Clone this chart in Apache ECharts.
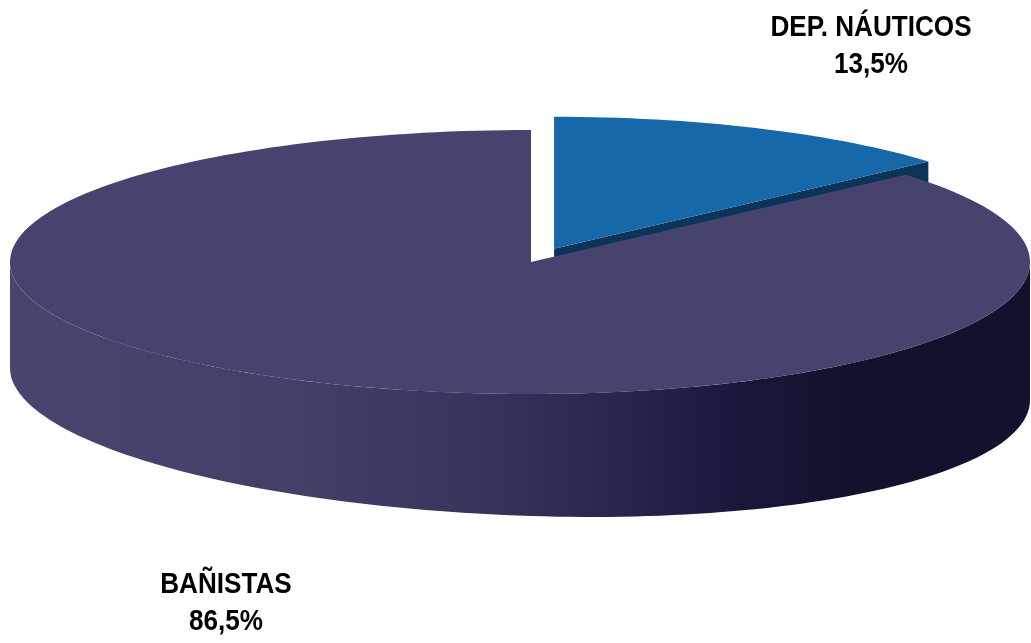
<!DOCTYPE html>
<html>
<head>
<meta charset="utf-8">
<script src="https://cdn.jsdelivr.net/npm/echarts@6/dist/echarts.min.js"></script>
<style>
    html, body {margin: 0; padding: 0; background: #fff;}
    #main {width: 1031px; height: 643px;}
</style>
</head>
<body>
<div id="main"></div>
<script>
// datos del gráfico
let categories = ['DEP. NÁUTICOS', 'BAÑISTAS'];
let shares = [13.5, 86.5];

// geometría de la tarta 3D (proyección elíptica, algo de perspectiva)
let cx = 531, cy = 262, rxLeft = 521, rxRight = 499, ry = 132;
let explode = [0.11, 0];
let topColors = ['#1668a8', '#46446f'];
let sideColors = ['#0b3458', '#12122e'];
let labelAt = [[871, 46], [226, 603]];

function depthAt(t) {
    return 122 + 16 * Math.cos(t * Math.PI / 180);
}

function pt(t, ox, oy, withDepth) {
    let r = t * Math.PI / 180;
    let c = Math.cos(r);
    let rx = c >= 0 ? rxRight : rxLeft;
    return [ox + rx * c, oy - ry * Math.sin(r) + (withDepth ? depthAt(t) : 0)];
}

function arc(from, to, ox, oy, withDepth) {
    let pts = [], n = Math.max(8, Math.ceil(Math.abs(to - from) / 1.5));
    for (let k = 0; k <= n; k++) {
        pts.push(pt(from + (to - from) * k / n, ox, oy, withDepth));
    }
    return pts;
}

function wallFill(i) {
    if (i === 0) return sideColors[0];
    return {
        type: 'linear', x: 0, y: 0, x2: 1, y2: 0,
        colorStops: [
            {offset: 0, color: '#48466f'},
            {offset: 0.28, color: '#423f69'},
            {offset: 0.47, color: '#36345c'},
            {offset: 0.61, color: '#26244a'},
            {offset: 0.72, color: '#18173a'},
            {offset: 0.82, color: '#12122e'},
            {offset: 1, color: '#12122e'}
        ]
    };
}

function cutFace(t, ox, oy, i, z) {
    let e = pt(t, ox, oy, false);
    let d = depthAt(t);
    return {
        type: 'polygon', z2: z + 1,
        shape: {points: [[ox, oy], e, [e[0], e[1] + d], [ox, oy + 122]]},
        style: {fill: sideColors[i]}
    };
}

function renderItem(params, api) {
    let i = params.dataIndex;
    let total = shares.reduce((a, b) => a + b, 0);
    let before = 0;
    for (let k = 0; k < i; k++) before += shares[k];
    let a0 = 90 - 360 * before / total;
    let a1 = 90 - 360 * (before + api.value(0)) / total;
    let mid = (a0 + a1) / 2 * Math.PI / 180;
    let ox = cx + explode[i] * (rxLeft + rxRight) / 2 * Math.cos(mid);
    let oy = cy - explode[i] * ry * Math.sin(mid);
    let children = [];
    let z = i * 10;

    // caras de corte (solo las que miran al frente)
    if (Math.cos(a1 * Math.PI / 180) > 0.01) children.push(cutFace(a1, ox, oy, i, z));
    if (Math.cos(a0 * Math.PI / 180) < -0.01) children.push(cutFace(a0, ox, oy, i, z));

    // pared exterior frontal
    for (let s = -720; s <= 360; s += 360) {
        let lo = Math.max(a1, -180 + s), hi = Math.min(a0, s);
        if (hi - lo > 0.1) {
            let top = arc(hi, lo, ox, oy, false);
            let bottom = arc(lo, hi, ox, oy, true);
            children.push({
                type: 'polygon', z2: z + 2,
                shape: {points: top.concat(bottom)},
                style: {fill: wallFill(i)}
            });
        }
    }

    // cara superior
    children.push({
        type: 'polygon', z2: z + 3,
        shape: {points: [[ox, oy]].concat(arc(a0, a1, ox, oy, false))},
        style: {fill: topColors[i]}
    });

    // etiqueta
    children.push({
        type: 'text', z2: z + 5,
        x: labelAt[i][0], y: labelAt[i][1],
        scaleX: 0.87,
        style: {
            text: categories[i] + '\n' + api.value(0).toFixed(1).replace('.', ',') + '%',
            fill: '#000',
            font: 'bold 30px "Liberation Sans", Arial, sans-serif',
            lineHeight: 37,
            align: 'center',
            verticalAlign: 'middle'
        }
    });

    return {type: 'group', children: children};
}

let myChart = echarts.init(document.getElementById('main'));
let option = {
    animation: false,
    series: [
        {
            type: 'custom',
            coordinateSystem: 'none',
            renderItem: renderItem,
            data: shares.map(function (v, k) {
                return {name: categories[k], value: [v]};
            })
        }
    ]
};
myChart.setOption(option);
</script>
</body>
</html>
